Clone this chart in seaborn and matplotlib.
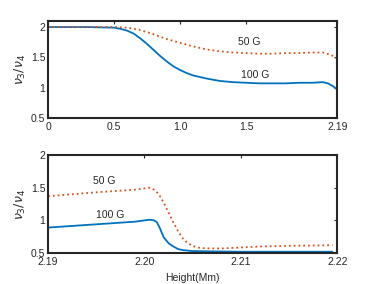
import matplotlib
matplotlib.use("Agg")
import matplotlib.pyplot as plt
import seaborn as sns

# top panel: whole height range
top_x_100 = [0, 0.3, 0.5, 0.55, 0.6, 0.65, 0.7, 0.75, 0.8, 0.85, 0.9, 0.95, 1.0, 1.05, 1.1,
             1.2, 1.3, 1.4, 1.5, 1.6, 1.7, 1.8, 1.9, 2.0, 2.08, 2.12, 2.16, 2.19]
top_y_100 = [2.0, 2.0, 1.99, 1.97, 1.94, 1.89, 1.81, 1.72, 1.62, 1.52, 1.43, 1.35, 1.29, 1.24, 1.20,
             1.15, 1.11, 1.09, 1.08, 1.07, 1.07, 1.07, 1.08, 1.08, 1.09, 1.07, 1.02, 0.97]
top_x_50 = [0, 0.5, 0.6, 0.7, 0.8, 0.9, 1.0, 1.1, 1.2, 1.3, 1.4, 1.5, 1.6, 1.7, 1.8, 1.9,
            2.0, 2.08, 2.13, 2.16, 2.19]
top_y_50 = [2.0, 2.0, 1.99, 1.95, 1.88, 1.80, 1.74, 1.68, 1.63, 1.60, 1.58, 1.57, 1.56, 1.56,
            1.57, 1.57, 1.58, 1.58, 1.55, 1.52, 1.48]

# bottom panel: zoom near the top
bot_x_100 = [2.19, 2.192, 2.194, 2.196, 2.198, 2.199, 2.2, 2.2005, 2.201, 2.2013, 2.2016, 2.202,
             2.2025, 2.203, 2.2035, 2.204, 2.205, 2.207, 2.21, 2.215, 2.2195]
bot_y_100 = [0.89, 0.91, 0.93, 0.95, 0.97, 0.98, 1.0, 1.01, 1.0, 0.97, 0.88, 0.74,
             0.65, 0.60, 0.56, 0.545, 0.53, 0.525, 0.52, 0.52, 0.52]
bot_x_50 = [2.19, 2.195, 2.199, 2.2, 2.2005, 2.201, 2.2015, 2.202, 2.2025, 2.203, 2.2035, 2.204,
            2.2045, 2.205, 2.2055, 2.206, 2.207, 2.208, 2.21, 2.212, 2.215, 2.2195]
bot_y_50 = [1.37, 1.43, 1.47, 1.49, 1.50, 1.47, 1.40, 1.27, 1.12, 0.97, 0.83, 0.72,
            0.65, 0.61, 0.585, 0.575, 0.57, 0.57, 0.585, 0.60, 0.61, 0.62]

top_xticks = [0, 0.5, 1.0, 1.5, 2.19]
top_xlabels = ["0", "0.5", "1.0", "1.5", "2.19"]
bot_xticks = [2.19, 2.20, 2.21, 2.22]
bot_xlabels = ["2.19", "2.20", "2.21", "2.22"]
yticks = [0.5, 1, 1.5, 2]
ylabels = ["0.5", "1", "1.5", "2"]

blue = "#0072BD"
orange = "#D95319"
fs = 7.5
ink = "#262626"

sns.set_style("white")
plt.rcParams['font.family'] = ['Liberation Sans', 'DejaVu Sans']

fig = plt.figure(figsize=(3.73, 2.84), dpi=100)
ax1 = fig.add_axes([0.129, 0.585, 0.775, 0.341])
ax2 = fig.add_axes([0.129, 0.109, 0.775, 0.345])

sns.lineplot(x=top_x_100, y=top_y_100, ax=ax1, color=blue, linewidth=1.3)
sns.lineplot(x=top_x_50, y=top_y_50, ax=ax1, color=orange, linewidth=1.3, linestyle=":")
sns.lineplot(x=bot_x_100, y=bot_y_100, ax=ax2, color=blue, linewidth=1.3)
sns.lineplot(x=bot_x_50, y=bot_y_50, ax=ax2, color=orange, linewidth=1.3, linestyle=":")

ax1.set_xlim(0, 2.19)
ax1.set_ylim(0.5, 2.1)
ax1.set_xticks(top_xticks)
ax1.set_xticklabels(top_xlabels)
ax2.set_xlim(2.19, 2.22)
ax2.set_ylim(0.5, 2.0)
ax2.set_xticks(bot_xticks)
ax2.set_xticklabels(bot_xlabels)

for ax in (ax1, ax2):
    ax.set_yticks(yticks)
    ax.set_yticklabels(ylabels)
    ax.tick_params(axis="both", direction="in", length=2.5, width=0.8, labelsize=fs,
                   colors=ink, top=True, right=True)
    ax.tick_params(axis="x", pad=3)
    ax.tick_params(axis="y", pad=2)
    for s in ax.spines.values():
        s.set_linewidth(1.5)
        s.set_color(ink)
    ax.set_ylabel(r"$\nu_3/\nu_4$", fontsize=9, color=ink, labelpad=2)

ax1.text(1.52, 1.76, "50 G", fontsize=fs, color=ink, ha="center", va="center")
ax1.text(1.57, 1.20, "100 G", fontsize=fs, color=ink, ha="center", va="center")
ax2.text(2.1958, 1.60, "50 G", fontsize=fs, color=ink, ha="center", va="center")
ax2.text(2.1964, 1.08, "100 G", fontsize=fs, color=ink, ha="center", va="center")
ax2.set_xlabel("Height(Mm)", fontsize=fs, color=ink, labelpad=4)

fig.savefig("out.png", dpi=100)
